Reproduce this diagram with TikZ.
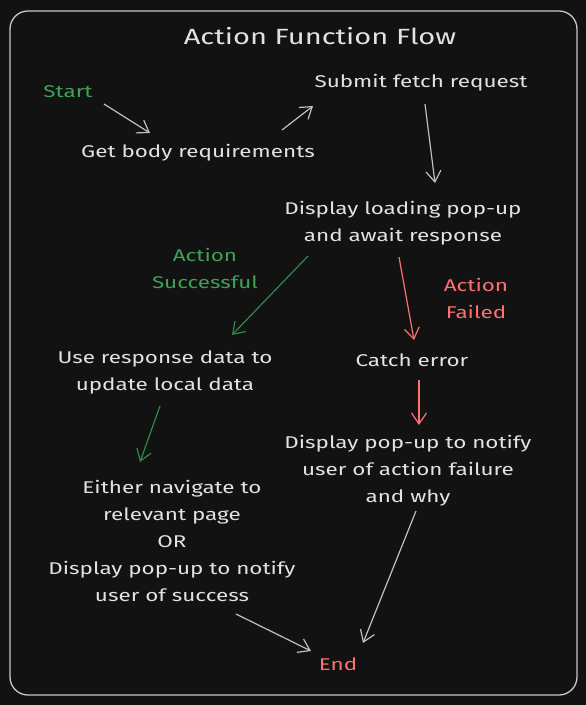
\documentclass[tikz,border=0pt]{standalone}
\usepackage{fontspec}
\setmainfont{Fira Sans}[FakeStretch=1.32]
\usetikzlibrary{arrows.meta}
\definecolor{bg}{HTML}{121212}
\definecolor{fg}{HTML}{E2E2E2}
\definecolor{grn}{HTML}{40A155}
\definecolor{grnline}{HTML}{2F8A45}
\definecolor{rd}{HTML}{FF7070}
\definecolor{frame}{HTML}{C8C8C8}
\tikzset{
  txt/.style={text=fg, font=\fontsize{17}{27}\selectfont, align=center, inner sep=0pt},
  gtxt/.style={txt, text=grn},
  rtxt/.style={txt, text=rd},
  ttl/.style={txt, font=\fontsize{22}{26}\selectfont},
  arr/.style={draw=fg!85!black, line width=1.2pt, -{Straight Barb[length=11pt, width=15pt, line width=1.2pt]}},
  garr/.style={arr, draw=grnline},
  rarr/.style={arr, draw=rd},
}
\begin{document}
\begin{tikzpicture}[x=1pt, y=-1pt]
\fill[bg] (0,0) rectangle (586,705);
\useasboundingbox (0,0) rectangle (586,705);
\draw[frame, line width=1.3pt, rounded corners=18pt] (10,11) rectangle (577,695);

\node[ttl] (title) at (320,36) {Action Function Flow};
\node[gtxt] (start) at (68,92) {Start};
\node[txt] (body) at (198,153) {Get body requirements};
\node[txt] (submit) at (421,83) {Submit fetch request};
\node[txt] (loading) at (403,223) {Display loading pop-up\\and await response};
\node[gtxt] (succ) at (205,268) {Action\\Successful};
\node[rtxt] (fail) at (476,298) {Action\\Failed};
\node[txt] (use) at (165,372) {Use response data to\\update local data};
\node[txt] (catch) at (412,360) {Catch error};
\node[txt] (notify) at (408,471) {Display pop-up to notify\\user of action failure\\and why};
\node[txt, text depth=0pt] (either) at (172,541) {Either navigate to\\relevant page\\OR\\Display pop-up to notify\\user of success};
\node[rtxt] (end) at (338,664) {End};

\coordinate (a1s) at (104,104); \coordinate (a1e) at (150,133);
\coordinate (a2s) at (282,130); \coordinate (a2e) at (313,106);
\coordinate (a3s) at (425,104); \coordinate (a3e) at (435,183);
\coordinate (a4s) at (308,256); \coordinate (a4e) at (232,335);
\coordinate (a5s) at (399,257); \coordinate (a5e) at (414,340);
\coordinate (a6s) at (160,406); \coordinate (a6e) at (140,462);
\coordinate (a7s) at (419,380); \coordinate (a7e) at (419,425);
\coordinate (a8s) at (236,614); \coordinate (a8e) at (311,651);
\coordinate (a9s) at (416,511); \coordinate (a9e) at (363,643);

\draw[arr] (a1s) -- (a1e);
\draw[arr] (a2s) -- (a2e);
\draw[arr] (a3s) -- (a3e);
\draw[garr] (a4s) -- (a4e);
\draw[rarr] (a5s) -- (a5e);
\draw[garr] (a6s) -- (a6e);
\draw[rarr] (a7s) -- (a7e);
\draw[arr] (a8s) -- (a8e);
\draw[arr] (a9s) -- (a9e);
\end{tikzpicture}
\end{document}
